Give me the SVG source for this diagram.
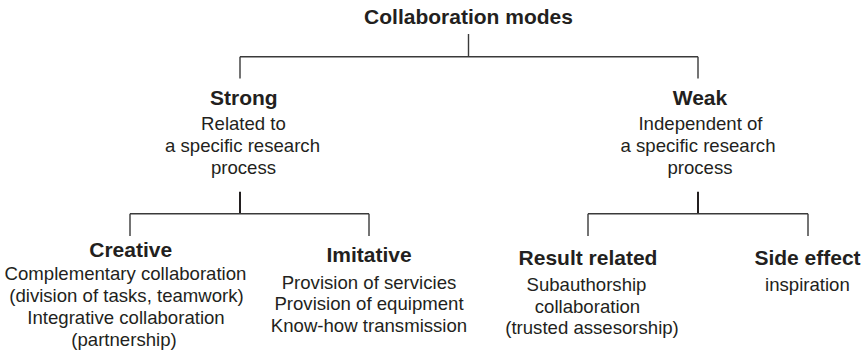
<svg xmlns="http://www.w3.org/2000/svg" width="866" height="357" viewBox="0 0 866 357">
<style>
text{font-family:"Liberation Sans",Arial,sans-serif;fill:#231f20;text-anchor:middle}
.h{font-weight:bold;font-size:21px}
.t{font-size:18.6px}
.c{fill:none;stroke:#3a3a3a;stroke-width:1.4}
.s{fill:none;stroke:#231f20;stroke-width:2}
</style>
<rect width="866" height="357" fill="#fff"/>
<g id="connectors">
<path class="c" d="M468.5 34V56.7M240 56.7H698M240 56.7V78.5M698 56.7V78.5"/>
<path class="s" d="M240 191.7V213.7M698 191.7V213.7"/>
<path class="c" d="M130 213.7H369M130 213.7V236M369 213.7V236"/>
<path class="c" d="M588 213.7H808M588 213.7V236M808 213.7V236"/>
</g>
<g id="root"><text class="h" x="468.5" y="24">Collaboration modes</text></g>
<g id="strong">
<text class="h" x="243.8" y="105">Strong</text>
<text class="t" x="243.5" y="129.5">Related to</text>
<text class="t" x="242.5" y="152.3">a specific research</text>
<text class="t" x="243.5" y="174">process</text>
</g>
<g id="weak">
<text class="h" x="700" y="105">Weak</text>
<text class="t" x="700.5" y="129.5">Independent of</text>
<text class="t" x="698" y="152.3">a specific research</text>
<text class="t" x="700" y="174">process</text>
</g>
<g id="creative">
<text class="h" x="130.7" y="256.7">Creative</text>
<text class="t" x="125.5" y="279.5">Complementary collaboration</text>
<text class="t" x="126.5" y="301.8">(division of tasks, teamwork)</text>
<text class="t" x="126" y="324">Integrative collaboration</text>
<text class="t" x="124" y="346.2">(partnership)</text>
</g>
<g id="imitative">
<text class="h" x="369" y="261.7">Imitative</text>
<text class="t" x="369" y="288.5">Provision of servicies</text>
<text class="t" x="369" y="310">Provision of equipment</text>
<text class="t" x="369" y="331.7">Know-how transmission</text>
</g>
<g id="result-related">
<text class="h" x="588" y="265">Result related</text>
<text class="t" x="586.5" y="291">Subauthorship</text>
<text class="t" x="587.5" y="312.5">collaboration</text>
<text class="t" x="592" y="334">(trusted assesorship)</text>
</g>
<g id="side-effect">
<text class="h" x="807.5" y="265">Side effect</text>
<text class="t" x="807.4" y="290.5">inspiration</text>
</g>
</svg>
